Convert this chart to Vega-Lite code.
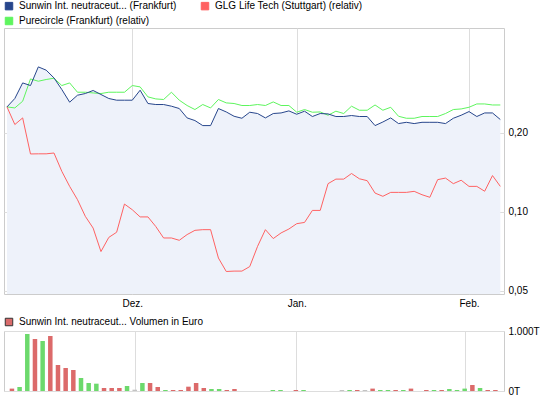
{
  "$schema": "https://vega.github.io/schema/vega-lite/v6.json",
  "padding": {"left": 3, "top": 0, "right": 0, "bottom": 0},
  "bounds": "flush",
  "spacing": 37,
  "config": {
    "font": "Liberation Sans",
    "view": {"stroke": "#cccccc", "strokeWidth": 1},
    "axis": {"labelFont": "Liberation Sans", "labelFontSize": 10, "labelColor": "#000000", "gridColor": "#dddddd", "gridWidth": 1, "domain": false, "ticks": false, "zindex": 1},
    "legend": {"labelFont": "Liberation Sans", "labelFontSize": 10, "labelColor": "#000000", "labelLimit": 0, "padding": 0, "symbolType": "square", "symbolSize": 56, "symbolStrokeColor": "#444444", "symbolStrokeWidth": 1, "labelOffset": 5}
  },
  "datasets": {
    "d": [
      {"i": 0, "s": 0.2504, "g": 0.2504, "p": 0.2504, "vol": 40000, "dir": "d"},
      {"i": 1, "s": 0.2696, "g": 0.2482, "p": 0.2146, "vol": 67000, "dir": "u"},
      {"i": 2, "s": 0.309, "g": 0.2632, "p": 0.2274, "vol": 950000, "dir": "u"},
      {"i": 3, "s": 0.302, "g": 0.320, "p": 0.1658, "vol": 867000, "dir": "d"},
      {"i": 4, "s": 0.3556, "g": 0.3136, "p": 0.166, "vol": 833000, "dir": "u"},
      {"i": 5, "s": 0.3456, "g": 0.3184, "p": 0.166, "vol": 917000, "dir": "d"},
      {"i": 6, "s": 0.3229, "g": 0.322, "p": 0.1672, "vol": 433000, "dir": "d"},
      {"i": 7, "s": 0.2917, "g": 0.302, "p": 0.1424, "vol": 383000, "dir": "d"},
      {"i": 8, "s": 0.261, "g": 0.309, "p": 0.1248, "vol": 350000, "dir": "d"},
      {"i": 9, "s": 0.2774, "g": 0.2848, "p": 0.1111, "vol": 217000, "dir": "u"},
      {"i": 10, "s": 0.2816, "g": 0.2848, "p": 0.096, "vol": 133000, "dir": "u"},
      {"i": 11, "s": 0.2892, "g": 0.283, "p": 0.0866, "vol": 122000, "dir": "u"},
      {"i": 12, "s": 0.2792, "g": 0.2816, "p": 0.0705, "vol": 50000, "dir": "d"},
      {"i": 13, "s": 0.2696, "g": 0.2848, "p": 0.0798, "vol": 50000, "dir": "d"},
      {"i": 14, "s": 0.2656, "g": 0.2848, "p": 0.0835, "vol": 50000, "dir": "d"},
      {"i": 15, "s": 0.2656, "g": 0.2848, "p": 0.1069, "vol": 83000, "dir": "u"},
      {"i": 16, "s": 0.2656, "g": 0.302, "p": 0.1017, "vol": 22000, "dir": "f"},
      {"i": 17, "s": 0.2899, "g": 0.2984, "p": 0.0955, "vol": 133000, "dir": "u"},
      {"i": 18, "s": 0.258, "g": 0.2734, "p": 0.0955, "vol": 133000, "dir": "d"},
      {"i": 19, "s": 0.2557, "g": 0.2686, "p": 0.0878, "vol": 67000, "dir": "d"},
      {"i": 20, "s": 0.2557, "g": 0.2672, "p": 0.0794, "vol": 17000, "dir": "u"},
      {"i": 21, "s": 0.252, "g": 0.2848, "p": 0.0794, "vol": 17000, "dir": "d"},
      {"i": 22, "s": 0.2469, "g": 0.2656, "p": 0.0778, "vol": 17000, "dir": "d"},
      {"i": 23, "s": 0.2274, "g": 0.2535, "p": 0.0818, "vol": 72000, "dir": "d"},
      {"i": 24, "s": 0.2222, "g": 0.2447, "p": 0.0849, "vol": 133000, "dir": "d"},
      {"i": 25, "s": 0.2126, "g": 0.2557, "p": 0.0854, "vol": 50000, "dir": "d"},
      {"i": 26, "s": 0.2126, "g": 0.2482, "p": 0.0854, "vol": 33000, "dir": "u"},
      {"i": 27, "s": 0.2469, "g": 0.2672, "p": 0.0666, "vol": 33000, "dir": "u"},
      {"i": 28, "s": 0.2396, "g": 0.2594, "p": 0.0592, "vol": 17000, "dir": "d"},
      {"i": 29, "s": 0.2307, "g": 0.258, "p": 0.0594, "vol": 33000, "dir": "d"},
      {"i": 30, "s": 0.2267, "g": 0.2535, "p": 0.0594, "vol": 0, "dir": "u"},
      {"i": 31, "s": 0.239, "g": 0.2535, "p": 0.0618, "vol": 0, "dir": "u"},
      {"i": 32, "s": 0.2363, "g": 0.2557, "p": 0.0738, "vol": 0, "dir": "u"},
      {"i": 33, "s": 0.2274, "g": 0.2535, "p": 0.0854, "vol": 0, "dir": "u"},
      {"i": 34, "s": 0.2363, "g": 0.2616, "p": 0.079, "vol": 17000, "dir": "u"},
      {"i": 35, "s": 0.2375, "g": 0.2535, "p": 0.083, "vol": 17000, "dir": "u"},
      {"i": 36, "s": 0.2418, "g": 0.2535, "p": 0.0859, "vol": 0, "dir": "u"},
      {"i": 37, "s": 0.2348, "g": 0.239, "p": 0.090, "vol": 17000, "dir": "d"},
      {"i": 38, "s": 0.2412, "g": 0.2447, "p": 0.091, "vol": 17000, "dir": "u"},
      {"i": 39, "s": 0.2302, "g": 0.239, "p": 0.1011, "vol": 0, "dir": "u"},
      {"i": 40, "s": 0.2363, "g": 0.2396, "p": 0.1011, "vol": 0, "dir": "u"},
      {"i": 41, "s": 0.2355, "g": 0.2328, "p": 0.1278, "vol": 0, "dir": "u"},
      {"i": 42, "s": 0.2302, "g": 0.2412, "p": 0.133, "vol": 0, "dir": "u"},
      {"i": 43, "s": 0.2302, "g": 0.2363, "p": 0.133, "vol": 17000, "dir": "f"},
      {"i": 44, "s": 0.2322, "g": 0.252, "p": 0.1397, "vol": 17000, "dir": "u"},
      {"i": 45, "s": 0.2302, "g": 0.2432, "p": 0.1334, "vol": 17000, "dir": "d"},
      {"i": 46, "s": 0.2302, "g": 0.2432, "p": 0.1312, "vol": 17000, "dir": "f"},
      {"i": 47, "s": 0.2126, "g": 0.2547, "p": 0.1177, "vol": 40000, "dir": "d"},
      {"i": 48, "s": 0.2194, "g": 0.2432, "p": 0.1144, "vol": 17000, "dir": "u"},
      {"i": 49, "s": 0.2274, "g": 0.2496, "p": 0.1184, "vol": 17000, "dir": "u"},
      {"i": 50, "s": 0.2164, "g": 0.2307, "p": 0.1184, "vol": 17000, "dir": "d"},
      {"i": 51, "s": 0.2188, "g": 0.2267, "p": 0.1184, "vol": 17000, "dir": "u"},
      {"i": 52, "s": 0.2164, "g": 0.2267, "p": 0.1195, "vol": 40000, "dir": "d"},
      {"i": 53, "s": 0.2188, "g": 0.2302, "p": 0.116, "vol": 0, "dir": "u"},
      {"i": 54, "s": 0.2188, "g": 0.2302, "p": 0.1134, "vol": 17000, "dir": "d"},
      {"i": 55, "s": 0.2188, "g": 0.2302, "p": 0.1324, "vol": 17000, "dir": "u"},
      {"i": 56, "s": 0.2164, "g": 0.2363, "p": 0.1342, "vol": 17000, "dir": "d"},
      {"i": 57, "s": 0.2267, "g": 0.2447, "p": 0.1278, "vol": 33000, "dir": "u"},
      {"i": 58, "s": 0.2328, "g": 0.246, "p": 0.1317, "vol": 17000, "dir": "u"},
      {"i": 59, "s": 0.2404, "g": 0.2496, "p": 0.1248, "vol": 40000, "dir": "u"},
      {"i": 60, "s": 0.2302, "g": 0.257, "p": 0.1248, "vol": 100000, "dir": "d"},
      {"i": 61, "s": 0.2375, "g": 0.257, "p": 0.1196, "vol": 50000, "dir": "u"},
      {"i": 62, "s": 0.2375, "g": 0.2547, "p": 0.1372, "vol": 17000, "dir": "d"},
      {"i": 63, "s": 0.2242, "g": 0.2547, "p": 0.1248, "vol": 17000, "dir": "d"}
    ]
  },
  "resolve": {"scale": {"color": "independent"}},
  "vconcat": [
    {
      "width": 500,
      "height": 266,
      "data": {"name": "d"},
      "encoding": {
        "x": {
          "field": "i", "type": "quantitative",
          "scale": {"domain": [-0.383, 63.47], "nice": false, "zero": false},
          "axis": {"values": [16, 37, 59], "labelExpr": "datum.value == 16 ? 'Dez.' : datum.value == 37 ? 'Jan.' : 'Feb.'", "grid": true, "labelPadding": 4, "title": null}
        }
      },
      "layer": [
        {
          "mark": {"type": "area", "color": "#eef2fa"},
          "encoding": {
            "y": {
              "field": "s", "type": "quantitative",
              "scale": {"type": "log", "domain": [0.0486, 0.5], "nice": false, "zero": false},
              "axis": {"orient": "right", "values": [0.05, 0.1, 0.2], "labelExpr": "replace(format(datum.value, '.2f'), '.', ',')", "grid": true, "labelPadding": 4, "title": null}
            },
            "y2": {"datum": 0.0486}
          }
        },
        {
          "transform": [{"fold": ["g", "p", "s"], "as": ["key", "val"]}],
          "mark": {"type": "square", "filled": true, "opacity": 0},
          "encoding": {
            "y": {"field": "val", "type": "quantitative"},
            "color": {
              "field": "key", "type": "nominal",
              "scale": {"domain": ["s", "p", "g"], "range": ["#27468c", "#ff6262", "#5ef55e"]},
              "legend": {
                "orient": "none", "legendX": 0, "legendY": -27, "title": null,
                "direction": "horizontal", "columns": 2, "columnPadding": 22, "rowPadding": 3,
                "symbolOpacity": 1, "symbolType": "square",
                "encode": {"symbols": {"update": {"stroke": {"value": "#333333"}, "strokeWidth": {"value": 1}}}},
                "labelExpr": "datum.value == 's' ? 'Sunwin Int. neutraceut... (Frankfurt)' : datum.value == 'p' ? 'GLG Life Tech (Stuttgart) (relativ)' : 'Purecircle (Frankfurt) (relativ)'"
              }
            }
          }
        },
        {
          "transform": [{"fold": ["g", "p", "s"], "as": ["key", "val"]}],
          "mark": {"type": "line", "strokeWidth": 1},
          "encoding": {
            "y": {"field": "val", "type": "quantitative"},
            "color": {"field": "key", "type": "nominal"}
          }
        }
      ]
    },
    {
      "width": 500,
      "height": 60,
      "data": {"name": "d"},
      "encoding": {
        "x": {
          "field": "i", "type": "quantitative",
          "scale": {"domain": [-0.383, 63.47], "nice": false, "zero": false},
          "axis": {"values": [16, 37, 59], "labels": false, "grid": true, "title": null}
        }
      },
      "layer": [
        {
          "mark": {"type": "bar", "size": 4.5},
          "encoding": {
            "y": {
              "field": "vol", "type": "quantitative",
              "scale": {"domain": [0, 1000000], "nice": false},
              "axis": {"orient": "right", "values": [0, 500000, 1000000], "labelExpr": "datum.value == 1000000 ? '1.000T' : format(datum.value / 1000, 'd') + 'T'", "grid": true, "labelPadding": 4, "title": null}
            },
            "fill": {
              "field": "dir", "type": "nominal",
              "scale": {"domain": ["d", "u", "f"], "range": ["#dc6a6a", "#6cd96c", "#c3c3c3"]},
              "legend": null
            }
          }
        },
        {
          "mark": {"type": "square", "filled": true, "opacity": 0},
          "encoding": {
            "y": {"field": "vol", "type": "quantitative"},
            "color": {
              "datum": "Sunwin Int. neutraceut... Volumen in Euro",
              "scale": {"range": ["#d96b6b"]},
              "legend": {
                "orient": "none", "legendX": 0, "legendY": -14, "title": null, "symbolOpacity": 1,
                "encode": {"symbols": {"update": {"stroke": {"value": "#333333"}, "strokeWidth": {"value": 1}}}}
              }
            }
          }
        }
      ]
    }
  ]
}
